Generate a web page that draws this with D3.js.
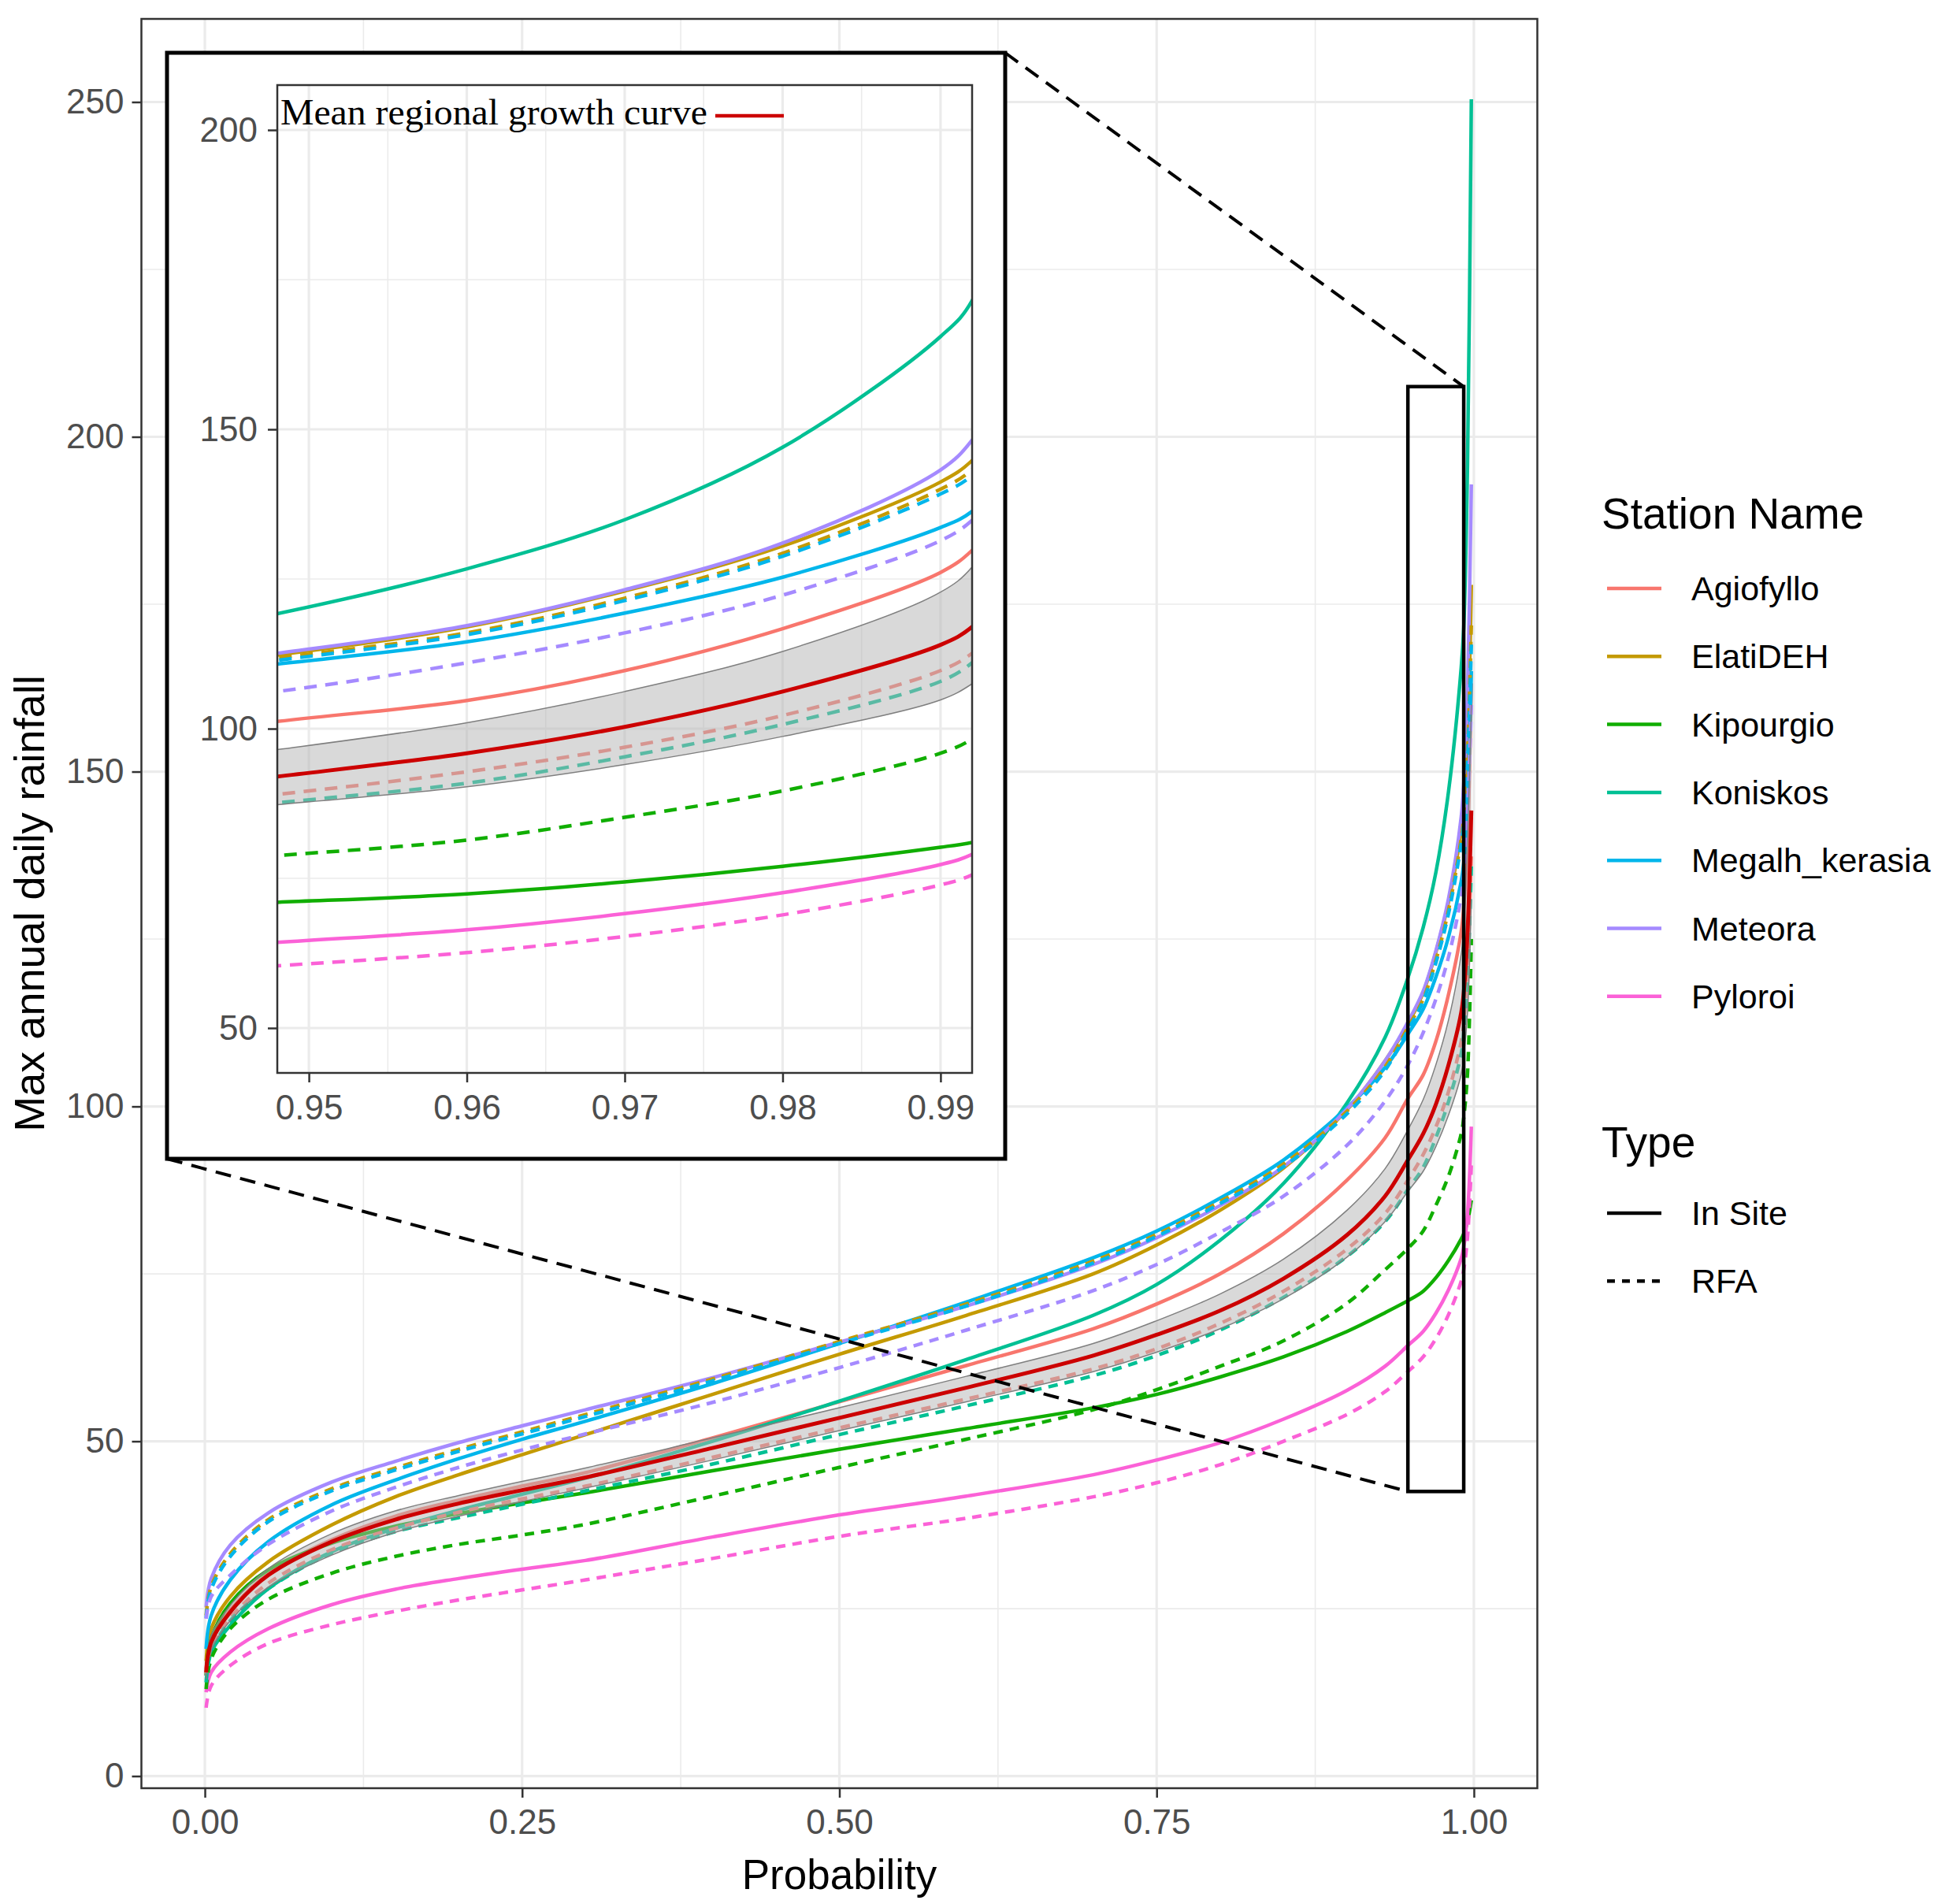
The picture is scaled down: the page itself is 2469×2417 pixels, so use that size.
<!DOCTYPE html>
<html>
<head>
<meta charset="utf-8">
<script src="https://cdn.jsdelivr.net/npm/d3@7/dist/d3.min.js"></script>
<style>
  body { margin: 0; background: #ffffff; }
</style>
</head>
<body>
<script>
const probs = [0.001, 0.005, 0.02, 0.05, 0.1, 0.15, 0.2, 0.25, 0.3, 0.4, 0.5, 0.6, 0.7, 0.75,
               0.8, 0.85, 0.9, 0.93, 0.948, 0.96, 0.97, 0.98, 0.99, 0.992, 0.995, 0.998];

const stationNames = ["Agiofyllo", "ElatiDEH", "Kipourgio", "Koniskos", "Megalh_kerasia", "Meteora", "Pyloroi"];
const typeNames = ["In Site", "RFA"];

// In Site (solid) curves
const agiofylloInSite = [16.0, 20.5, 24.8, 30.2, 35.3, 38.8, 41.2, 43.3, 45.3, 50.5, 55.9, 61.3, 66.8, 70.5, 75.0, 81.0, 89.0, 95.3, 101.2, 104.7, 109.7, 116.7, 126.1, 129.8, 140.0, 163.2];
const elatiInSite     = [17.2, 22.0, 26.8, 32.0, 37.5, 41.7, 45.0, 48.0, 51.0, 57.0, 63.0, 68.8, 75.0, 79.3, 84.5, 90.8, 99.5, 106.8, 112.3, 117.0, 123.0, 130.5, 141.2, 144.8, 155.0, 177.9];
const kipourgioInSite = [15.0, 20.5, 25.8, 30.8, 34.8, 37.3, 39.2, 40.8, 42.3, 45.6, 48.8, 51.9, 55.0, 57.0, 59.6, 62.6, 66.4, 69.2, 71.0, 72.4, 74.4, 77.0, 80.2, 81.0, 82.8, 86.0];
const koniskosInSite  = [15.0, 18.5, 22.5, 28.0, 33.5, 37.0, 39.7, 42.1, 44.5, 50.0, 56.0, 62.2, 68.8, 73.4, 80.0, 88.5, 100.5, 110.3, 119.2, 126.7, 134.9, 147.0, 165.5, 171.5, 196.0, 250.4];
const megalhInSite    = [19.0, 24.0, 29.3, 35.0, 40.5, 44.2, 47.4, 50.3, 53.0, 58.6, 64.6, 70.8, 77.4, 81.4, 86.3, 92.0, 99.8, 105.8, 110.8, 114.5, 119.3, 125.3, 133.6, 136.3, 145.0, 165.0];
const meteoraInSite   = [25.2, 29.5, 34.5, 39.3, 43.9, 47.0, 49.8, 52.3, 54.7, 59.5, 64.8, 70.2, 76.4, 80.4, 85.2, 91.0, 99.6, 106.8, 112.6, 117.2, 123.2, 131.0, 143.2, 148.2, 162.0, 192.9];
const pyloroiInSite   = [12.5, 15.5, 18.5, 22.0, 25.6, 27.9, 29.5, 30.9, 32.2, 35.7, 39.0, 41.8, 45.0, 47.2, 49.8, 53.3, 57.6, 61.2, 64.3, 66.4, 69.1, 72.6, 77.3, 79.0, 84.0, 97.0];

// RFA (dashed) curves
const agiofylloRFA = [15.0, 19.3, 23.6, 28.8, 33.8, 37.0, 39.4, 41.4, 43.3, 47.6, 52.0, 56.3, 60.8, 63.8, 67.6, 72.4, 78.7, 84.0, 89.0, 92.8, 96.9, 102.2, 109.7, 112.6, 120.5, 138.0];
const elatiRFA     = [24.0, 28.3, 33.2, 38.3, 42.9, 46.0, 48.8, 51.4, 54.0, 59.3, 64.9, 70.5, 76.9, 80.9, 85.8, 91.4, 99.3, 105.9, 111.8, 116.0, 121.8, 129.3, 140.0, 143.3, 153.0, 172.0];
const kipourgioRFA = [13.0, 17.5, 22.0, 26.4, 30.3, 32.8, 34.6, 36.0, 37.6, 41.8, 46.1, 50.3, 54.7, 57.7, 61.2, 65.0, 70.6, 75.6, 78.8, 81.4, 85.2, 89.6, 95.9, 98.3, 105.0, 125.0];
const koniskosRFA  = [14.0, 18.5, 23.2, 28.0, 33.3, 36.5, 38.6, 40.6, 42.6, 46.6, 51.0, 55.3, 59.8, 62.8, 66.6, 71.5, 77.6, 82.8, 87.6, 90.9, 95.3, 100.7, 107.9, 111.0, 119.0, 136.0];
const megalhRFA    = [23.6, 27.9, 32.8, 38.0, 42.6, 45.7, 48.5, 51.1, 53.7, 59.0, 64.6, 70.2, 76.6, 80.6, 85.5, 91.0, 98.9, 105.4, 111.4, 115.7, 121.4, 128.8, 139.2, 142.3, 151.5, 169.0];
const meteoraRFA   = [23.5, 26.8, 30.0, 34.6, 39.6, 43.1, 46.1, 48.7, 51.1, 55.8, 61.0, 66.6, 72.5, 76.4, 81.2, 86.6, 94.2, 100.8, 106.2, 111.0, 116.0, 122.3, 131.4, 134.8, 144.0, 160.0];
const pyloroiRFA   = [10.2, 13.5, 16.5, 19.8, 22.6, 24.6, 26.3, 27.8, 29.3, 32.5, 35.8, 38.5, 41.7, 43.8, 46.5, 50.0, 54.0, 57.4, 60.4, 62.6, 65.3, 68.9, 73.9, 75.6, 80.5, 91.3];

// mean regional growth curve and its band
const regionalMean = [15.5, 20.0, 24.5, 30.0, 35.0, 38.3, 40.7, 42.7, 44.6, 49.0, 53.5, 58.0, 62.8, 65.9, 69.5, 74.3, 80.8, 86.6, 92.0, 95.9, 100.3, 106.2, 114.0, 117.0, 126.0, 144.2];
const regionalLow  = [14.5, 18.8, 23.2, 28.2, 33.0, 36.4, 38.8, 41.0, 43.0, 47.2, 51.6, 55.9, 60.4, 63.3, 66.8, 71.3, 77.5, 82.8, 87.3, 90.3, 94.0, 98.7, 104.8, 107.5, 114.0, 131.0];
const regionalHigh = [16.2, 21.0, 25.5, 31.0, 36.2, 39.6, 41.9, 44.0, 46.0, 50.5, 55.0, 59.7, 64.6, 68.0, 72.0, 77.2, 84.5, 90.7, 96.5, 101.0, 106.2, 112.9, 122.8, 127.0, 140.0, 160.0];

// ticks
const xTicks = [0, 0.25, 0.5, 0.75, 1];
const yTicks = [0, 50, 100, 150, 200, 250];
const insetXTicks = [0.95, 0.96, 0.97, 0.98, 0.99];
const insetYTicks = [50, 100, 150, 200];
// zoom window of the inset (before the usual 5% padding)
const insetXLimits = [0.95, 0.99];
const insetYLimits = [50, 200];

const inSiteSeries = [agiofylloInSite, elatiInSite, kipourgioInSite, koniskosInSite, megalhInSite, meteoraInSite, pyloroiInSite];
const rfaSeries = [agiofylloRFA, elatiRFA, kipourgioRFA, koniskosRFA, megalhRFA, meteoraRFA, pyloroiRFA];

const colors = ["#F8766D", "#C49A00", "#10AE00", "#00C094", "#00B6EB", "#A58AFF", "#FB61D7"];
const meanColor = "#CC0000";
const SANS = "'Liberation Sans', Arial, sans-serif";
const SERIF = "'Liberation Serif', 'Times New Roman', serif";

//build curve list
const curves = [];
stationNames.forEach((name, i) => {
    curves.push({ name, type: "In Site", values: inSiteSeries[i], color: colors[i] });
});
stationNames.forEach((name, i) => {
    curves.push({ name, type: "RFA", values: rfaSeries[i], color: colors[i] });
});

const svg = d3.select("body").append("svg")
    .attr("width", 2469)
    .attr("height", 2417)
    .style("font-family", SANS);

svg.append("rect").attr("width", 2469).attr("height", 2417).attr("fill", "#ffffff");

const expand = (lim) => {
    const pad = (lim[1] - lim[0]) * 0.05;
    return [lim[0] - pad, lim[1] + pad];
};

//minor breaks half way between the major ones (plus one step outside)
const minorBreaks = (ticks, domain) => {
    const step = ticks[1] - ticks[0];
    return d3.pairs(ticks).map(([a, b]) => (a + b) / 2)
        .concat([ticks[0] - step / 2, ticks[ticks.length - 1] + step / 2])
        .filter(v => v > domain[0] && v < domain[1]);
};

const smooth = d3.curveCatmullRom.alpha(0.5);

//draw one ggplot-like panel
const drawPanel = (g, cfg) => {
    const { xs, ys, id } = cfg;
    const [x0, x1] = xs.range();
    const [y1, y0] = ys.range();

    g.append("rect")
        .attr("x", x0).attr("y", y0)
        .attr("width", x1 - x0).attr("height", y1 - y0)
        .attr("fill", "#ffffff");

    const grid = g.append("g").attr("class", "grid");
    const vLines = (data, w) => grid.append("g").selectAll("line").data(data).join("line")
        .attr("x1", d => xs(d)).attr("x2", d => xs(d))
        .attr("y1", y0).attr("y2", y1)
        .attr("stroke", "#EBEBEB").attr("stroke-width", w);
    const hLines = (data, w) => grid.append("g").selectAll("line").data(data).join("line")
        .attr("x1", x0).attr("x2", x1)
        .attr("y1", d => ys(d)).attr("y2", d => ys(d))
        .attr("stroke", "#EBEBEB").attr("stroke-width", w);

    vLines(minorBreaks(cfg.xTicks, xs.domain()), 1.6);
    hLines(minorBreaks(cfg.yTicks, ys.domain()), 1.6);
    vLines(cfg.xTicks, 3.2);
    hLines(cfg.yTicks, 3.2);

    g.append("clipPath").attr("id", id)
        .append("rect")
        .attr("x", x0).attr("y", y0)
        .attr("width", x1 - x0).attr("height", y1 - y0);

    const body = g.append("g").attr("clip-path", `url(#${id})`);

    const line = d3.line()
        .x((d, i) => xs(probs[i]))
        .y(d => ys(d))
        .curve(smooth);

    body.selectAll(".curve").data(curves).join("path")
        .attr("class", "curve")
        .attr("d", d => line(d.values))
        .attr("fill", "none")
        .attr("stroke", d => d.color)
        .attr("stroke-width", 4.5)
        .attr("stroke-dasharray", d => d.type === "RFA" ? cfg.dash : null);

    const band = d3.area()
        .x((d, i) => xs(probs[i]))
        .y0((d, i) => ys(regionalLow[i]))
        .y1((d, i) => ys(regionalHigh[i]))
        .curve(smooth);

    body.append("path")
        .attr("d", band(regionalMean))
        .attr("fill", "#B3B3B3")
        .attr("fill-opacity", 0.5)
        .attr("stroke", "none");

    [regionalLow, regionalHigh].forEach(edge => {
        body.append("path")
            .attr("d", line(edge))
            .attr("fill", "none")
            .attr("stroke", "#7F7F7F")
            .attr("stroke-width", 1.5);
    });

    body.append("path")
        .attr("d", line(regionalMean))
        .attr("fill", "none")
        .attr("stroke", meanColor)
        .attr("stroke-width", 5);

    g.append("rect")
        .attr("x", x0).attr("y", y0)
        .attr("width", x1 - x0).attr("height", y1 - y0)
        .attr("fill", "none")
        .attr("stroke", "#333333")
        .attr("stroke-width", 2.5);

    const styleAxis = (a) => {
        a.attr("font-size", 44).attr("font-family", SANS);
        a.select(".domain").remove();
        a.selectAll(".tick line").attr("stroke", "#333333").attr("stroke-width", 2.5);
        a.selectAll(".tick text").attr("fill", "#4D4D4D");
    };

    g.append("g")
        .attr("transform", `translate(0,${y1})`)
        .call(d3.axisBottom(xs).tickValues(cfg.xTicks).tickFormat(d3.format(".2f"))
            .tickSize(12).tickPadding(cfg.padX))
        .call(styleAxis);

    g.append("g")
        .attr("transform", `translate(${x0},0)`)
        .call(d3.axisLeft(ys).tickValues(cfg.yTicks).tickFormat(d3.format("d"))
            .tickSize(12).tickPadding(cfg.padY))
        .call(styleAxis);
};

// main panel
const x = d3.scaleLinear().domain([-0.05, 1.05]).range([179.5, 1951.5]);
const y = d3.scaleLinear().domain([-1.81, 262.41]).range([2270, 24]);

const main = svg.append("g").attr("class", "main");
drawPanel(main, { xs: x, ys: y, xTicks, yTicks, id: "clipMain", dash: "12,9", padX: 15, padY: 10 });

// zoom rectangle and connectors
const zx = expand(insetXLimits), zy = expand(insetYLimits);
const box = { left: 212, top: 67, right: 1276, bottom: 1471 };

svg.append("rect")
    .attr("x", x(zx[0])).attr("y", y(zy[1]))
    .attr("width", x(zx[1]) - x(zx[0]))
    .attr("height", y(zy[0]) - y(zy[1]))
    .attr("fill", "none")
    .attr("stroke", "#000000")
    .attr("stroke-width", 4.5);

const connectors = [
    [[box.right, box.top], [x(zx[1]), y(zy[1])]],
    [[box.left, box.bottom], [x(zx[0]), y(zy[0])]]
];
svg.selectAll(".connector").data(connectors).join("path")
    .attr("class", "connector")
    .attr("d", d => d3.line()(d))
    .attr("stroke", "#000000")
    .attr("stroke-width", 4)
    .attr("stroke-dasharray", "20,12")
    .attr("fill", "none");

// inset
svg.append("rect")
    .attr("x", box.left).attr("y", box.top)
    .attr("width", box.right - box.left).attr("height", box.bottom - box.top)
    .attr("fill", "#ffffff")
    .attr("stroke", "#000000")
    .attr("stroke-width", 5);

const ix = d3.scaleLinear().domain(zx).range([352, 1234]);
const iy = d3.scaleLinear().domain(zy).range([1362, 108]);

const inset = svg.append("g").attr("class", "inset");
drawPanel(inset, { xs: ix, ys: iy, xTicks: insetXTicks, yTicks: insetYTicks, id: "clipInset", dash: "16,11", padX: 16, padY: 13 });

inset.append("text")
    .attr("x", 356).attr("y", 158)
    .style("font-family", SERIF)
    .attr("font-size", 46)
    .attr("textLength", 542)
    .attr("lengthAdjust", "spacingAndGlyphs")
    .attr("fill", "#000000")
    .text("Mean regional growth curve");

inset.append("line")
    .attr("x1", 908).attr("x2", 995)
    .attr("y1", 147).attr("y2", 147)
    .attr("stroke", meanColor)
    .attr("stroke-width", 4.5);

// axis titles
svg.append("text")
    .attr("x", (x.range()[0] + x.range()[1]) / 2)
    .attr("y", 2398)
    .attr("text-anchor", "middle")
    .attr("font-size", 53)
    .attr("fill", "#000000")
    .text("Probability");

svg.append("text")
    .attr("transform", `translate(56,${(y.range()[0] + y.range()[1]) / 2}) rotate(-90)`)
    .attr("text-anchor", "middle")
    .attr("font-size", 54)
    .attr("fill", "#000000")
    .text("Max annual daily rainfall");

// legends
const legend = svg.append("g").attr("class", "legend");
const keyX = 2040, keyLen = 69, labelX = 2147, step = 86.3;

legend.append("text")
    .attr("x", 2033).attr("y", 671)
    .attr("font-size", 55)
    .text("Station Name");

const items = legend.selectAll(".station").data(stationNames).join("g")
    .attr("class", "station")
    .attr("transform", (d, i) => `translate(0,${747 + i * step})`);
items.append("line")
    .attr("x1", keyX).attr("x2", keyX + keyLen)
    .attr("stroke", (d, i) => colors[i])
    .attr("stroke-width", 4.5);
items.append("text")
    .attr("x", labelX).attr("dy", "0.35em")
    .attr("font-size", 43)
    .text(d => d);

legend.append("text")
    .attr("x", 2033).attr("y", 1469)
    .attr("font-size", 55)
    .text("Type");

const typeItems = legend.selectAll(".type").data(typeNames).join("g")
    .attr("class", "type")
    .attr("transform", (d, i) => `translate(0,${1540 + i * step})`);
typeItems.append("line")
    .attr("x1", keyX).attr("x2", keyX + keyLen)
    .attr("stroke", "#000000")
    .attr("stroke-width", 4.5)
    .attr("stroke-dasharray", d => d === "RFA" ? "10,9" : null);
typeItems.append("text")
    .attr("x", labelX).attr("dy", "0.35em")
    .attr("font-size", 43)
    .text(d => d);
</script>
</body>
</html>
